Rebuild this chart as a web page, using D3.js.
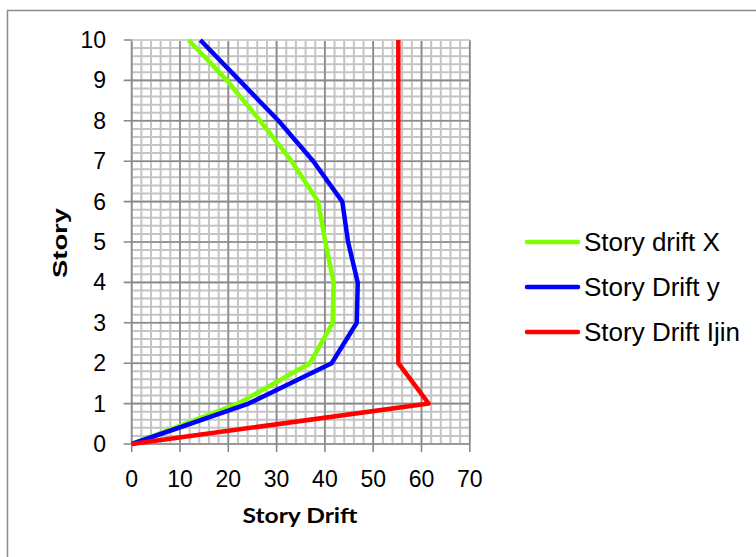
<!DOCTYPE html>
<html><head><meta charset="utf-8">
<script src="https://cdn.jsdelivr.net/npm/d3@7"></script>
<style>body{margin:0;background:#fff}svg{display:block}</style>
</head><body>
<script>
const stories = [0,1,2,3,4,5,6,7,8,9,10];
const driftX = [0,22,36.9,41.6,41.8,40.1,38.6,33.1,26.6,19.7,11.8];
const driftY = [0,24.2,41.4,46.6,46.8,44.8,43.6,37.6,30.4,22.3,14.2];
const driftIjin = [0,61.5,55.2,55.2,55.2,55.2,55.2,55.2,55.2,55.2,55.2];
const seriesNames = ["Story drift X","Story Drift y","Story Drift Ijin"];
const colors = ["#7fff00","#0000ff","#ff0000"];
const xTicks = [0,10,20,30,40,50,60,70];
const yTicks = [0,1,2,3,4,5,6,7,8,9,10];

const W=756,H=557;
const svg=d3.select("body").append("svg").attr("width",W).attr("height",H);
svg.append("rect").attr("x",7.5).attr("y",10.5).attr("width",W).attr("height",H).attr("fill","#fff").attr("stroke","#8c8c8c").attr("stroke-width",1.5);

const x=d3.scaleLinear().domain([0,70]).range([131.7,469.8]);
const y=d3.scaleLinear().domain([0,10]).range([444,40]);
const g=svg.append("g");
// minor grid
const minorX=d3.range(0,70.001,2), minorY=d3.range(0,10.001,0.2);
g.selectAll(".mx").data(minorX).join("line").attr("x1",d=>x(d)).attr("x2",d=>x(d)).attr("y1",y(0)).attr("y2",y(10)).attr("stroke","#c4c4c4").attr("stroke-width",2);
g.selectAll(".my").data(minorY).join("line").attr("y1",d=>y(d)).attr("y2",d=>y(d)).attr("x1",x(0)).attr("x2",x(70)).attr("stroke","#c4c4c4").attr("stroke-width",2);
// major grid
g.selectAll(".Mx").data(xTicks).join("line").attr("x1",d=>x(d)).attr("x2",d=>x(d)).attr("y1",y(0)+8).attr("y2",y(10)).attr("stroke","#8a8a8a").attr("stroke-width",1.6);
g.selectAll(".My").data(yTicks).join("line").attr("y1",d=>y(d)).attr("y2",d=>y(d)).attr("x1",x(0)-8).attr("x2",x(70)).attr("stroke","#8a8a8a").attr("stroke-width",1.6);
g.append("line").attr("x1",x(0)).attr("x2",x(70)).attr("y1",y(10)).attr("y2",y(10)).attr("stroke","#d0d0d0").attr("stroke-width",2);

// tick labels
const font="'Liberation Sans', Arial, sans-serif";
svg.selectAll(".xl").data(xTicks).join("text").attr("x",d=>x(d)).attr("y",487).attr("text-anchor","middle").attr("font-family",font).attr("font-size",23).text(d=>d);
svg.selectAll(".yl").data(yTicks).join("text").attr("x",106).attr("y",d=>y(d)+8).attr("text-anchor","end").attr("font-family",font).attr("font-size",23).text(d=>d);

svg.append("text").attr("x",300).attr("y",523).attr("text-anchor","middle").attr("font-family","Lato, 'Open Sans', sans-serif").attr("font-weight","bold").attr("font-size",21)
  .attr("textLength",115).attr("lengthAdjust","spacingAndGlyphs").text("Story Drift");
svg.append("text").attr("transform","translate(67,243) rotate(-90)").attr("text-anchor","middle").attr("font-family",font).attr("font-weight","bold").attr("font-size",20)
  .attr("textLength",70).attr("lengthAdjust","spacingAndGlyphs").text("Story");

// series
const data=[driftX,driftY,driftIjin];
const line=d3.line().x(d=>x(d[0])).y(d=>y(d[1]));
data.forEach((s,i)=>{
  svg.append("path").datum(s.map((v,j)=>[v,stories[j]])).attr("d",line).attr("fill","none").attr("stroke",colors[i]).attr("stroke-width",4.5).attr("stroke-linejoin","round");
});

// legend
const ly=[242,287,332];
seriesNames.forEach((n,i)=>{
  svg.append("line").attr("x1",527).attr("x2",578).attr("y1",ly[i]).attr("y2",ly[i]).attr("stroke",colors[i]).attr("stroke-width",4.5).attr("stroke-linecap","round");
  svg.append("text").attr("x",584).attr("y",ly[i]+9).attr("font-family",font).attr("font-size",26).text(n);
});
</script>
</body></html>
